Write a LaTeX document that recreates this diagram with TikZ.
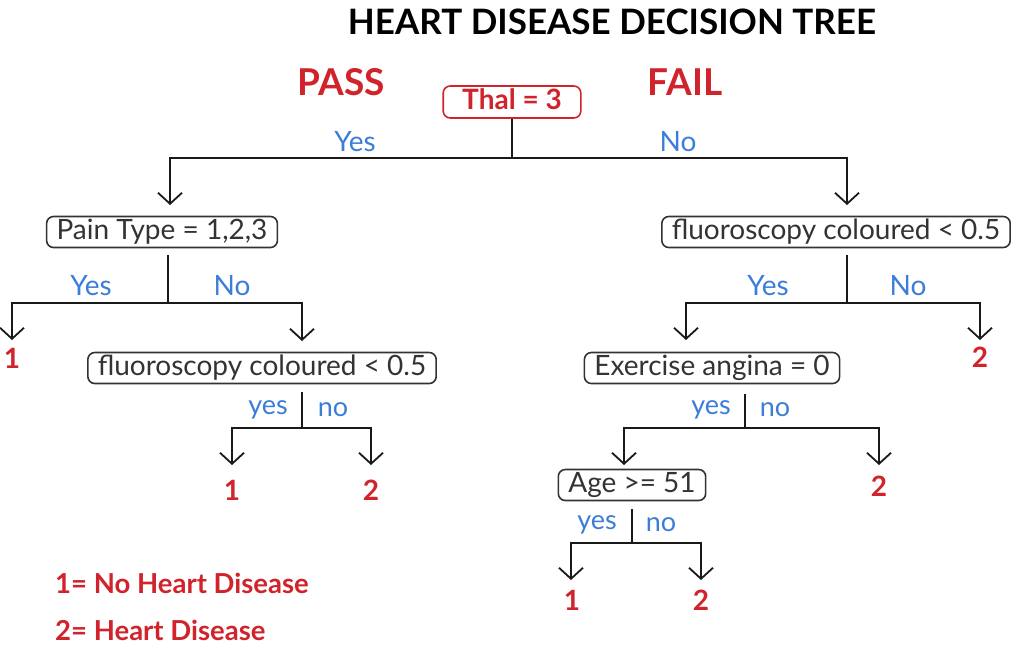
\documentclass[tikz,border=0pt]{standalone}
\usepackage{fontspec}
\setmainfont{Lato}
\usetikzlibrary{arrows.meta}
\definecolor{dred}{HTML}{D0232B}
\definecolor{lblue}{HTML}{3B7DD8}
\definecolor{tgray}{HTML}{333333}
\begin{document}
\begin{tikzpicture}[x=1pt,y=-1pt,
  box/.style={draw=tgray, line width=1.6pt, rounded corners=7pt, text=tgray,
    font=\fontsize{28}{32}\selectfont, inner xsep=10pt, inner ysep=0pt,
    text height=20pt, text depth=6pt, minimum height=31pt},
  rootbox/.style={box, draw=dred, text=dred, font=\fontsize{28}{32}\selectfont\bfseries, inner xsep=19pt, minimum height=32pt},
  lbl/.style={text=lblue, font=\fontsize{28}{32}\selectfont, inner sep=0pt},
  slbl/.style={text=lblue, font=\fontsize{27}{32}\selectfont, inner sep=0pt},
  res/.style={text=dred, font=\fontsize{28}{32}\selectfont\bfseries, inner sep=0pt},
  head/.style={text=dred, font=\fontsize{37}{40}\selectfont\bfseries, inner sep=0pt},
  legend/.style={text=dred, font=\fontsize{27.5}{32}\selectfont\bfseries, inner sep=0pt, anchor=west},
  wire/.style={draw=black!90, line width=1.8pt},
  arr/.style={wire, -{Straight Barb[length=11pt,width=24pt,line width=1.8pt]}}
]
\useasboundingbox (0,0) rectangle (1022,648);

% title and headings
\node[font=\fontsize{35}{40}\selectfont\bfseries, inner sep=0pt] (title) at (612,22) {HEART DISEASE DECISION TREE};
\node[head] (pass) at (341,82) {PASS};
\node[head] (fail) at (685,82) {FAIL};

% decision nodes
\node[rootbox] (root) at (512,102) {Thal = 3};
\node[box] (pain) at (162,232) {Pain Type = 1,2,3};
\node[box] (fluL) at (262,368) {fluoroscopy coloured < 0.5};
\node[box] (fluR) at (836,232) {fluoroscopy coloured < 0.5};
\node[box] (ex) at (712,368) {Exercise angina = 0};
\node[box] (age) at (632,485) {Age >= 51};

% results
\node[res] (r1) at (12,358) {1};
\node[res] (r2) at (232,490) {1};
\node[res] (r3) at (371,490) {2};
\node[res] (r4) at (980,357) {2};
\node[res] (r5) at (879,486) {2};
\node[res] (r6) at (572,600) {1};
\node[res] (r7) at (701,600) {2};

% legend
\node[legend] (leg1) at (55,583) {1= No Heart Disease};
\node[legend] (leg2) at (55,630) {2= Heart Disease};

% branch coordinates
\coordinate (h0) at (512,158);
\coordinate (a0L) at (170,205);
\coordinate (a0R) at (847,205);

\coordinate (s1) at (168,255);
\coordinate (h1) at (168,303);
\coordinate (a1L) at (12,340);
\coordinate (a1R) at (302,341);

\coordinate (s2) at (302,392);
\coordinate (h2) at (302,428);
\coordinate (a2L) at (232,465);
\coordinate (a2R) at (371,465);

\coordinate (s3) at (847,255);
\coordinate (h3) at (847,303);
\coordinate (a3L) at (686,340);
\coordinate (a3R) at (980,340);

\coordinate (s4) at (745,394);
\coordinate (h4) at (745,428);
\coordinate (a4L) at (624,465);
\coordinate (a4R) at (879,465);

\coordinate (s5) at (632,509);
\coordinate (h5) at (632,543);
\coordinate (a5L) at (571,580);
\coordinate (a5R) at (701,580);

% connectors
\draw[wire] (root.south) -- (h0);
\draw[arr] (h0) -| (a0L);
\draw[arr] (h0) -| (a0R);
\draw[wire] (s1) -- (h1);
\draw[arr] (h1) -| (a1L);
\draw[arr] (h1) -| (a1R);
\draw[wire] (s2) -- (h2);
\draw[arr] (h2) -| (a2L);
\draw[arr] (h2) -| (a2R);
\draw[wire] (s3) -- (h3);
\draw[arr] (h3) -| (a3L);
\draw[arr] (h3) -| (a3R);
\draw[wire] (s4) -- (h4);
\draw[arr] (h4) -| (a4L);
\draw[arr] (h4) -| (a4R);
\draw[wire] (s5) -- (h5);
\draw[arr] (h5) -| (a5L);
\draw[arr] (h5) -| (a5R);

% branch labels
\node[lbl] (y0) at (355,142) {Yes};
\node[lbl] (n0) at (678,142) {No};
\node[lbl] (y1) at (91,286) {Yes};
\node[lbl] (n1) at (232,286) {No};
\node[slbl] (y2) at (268,410) {yes};
\node[slbl] (n2) at (333,410) {no};
\node[lbl] (y3) at (768,286) {Yes};
\node[lbl] (n3) at (908,286) {No};
\node[slbl] (y4) at (711,410) {yes};
\node[slbl] (n4) at (775,410) {no};
\node[slbl] (y5) at (597,525) {yes};
\node[slbl] (n5) at (661,525) {no};
\end{tikzpicture}
\end{document}
